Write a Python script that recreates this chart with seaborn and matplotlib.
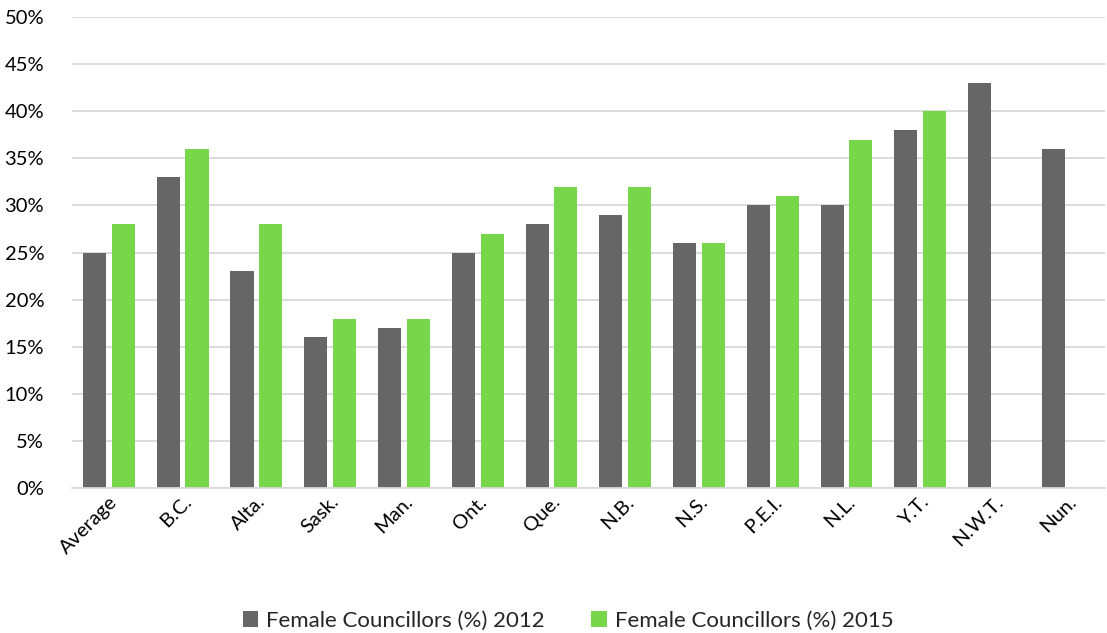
import matplotlib
matplotlib.use("Agg")
import matplotlib.pyplot as plt
import seaborn as sns
import pandas as pd
import numpy as np
from matplotlib.ticker import FuncFormatter

categories = ["Average", "B.C.", "Alta.", "Sask.", "Man.", "Ont.", "Que.", "N.B.",
              "N.S.", "P.E.I.", "N.L.", "Y.T.", "N.W.T.", "Nun."]
values_2012 = [25, 33, 23, 16, 17, 25, 28, 29, 26, 30, 30, 38, 43, 36]
values_2015 = [28, 36, 28, 18, 18, 27, 32, 32, 26, 31, 37, 40, np.nan, np.nan]
series_names = ["Female Councillors (%) 2012", "Female Councillors (%) 2015"]
colors = ["#666666", "#78D64B"]

df = pd.DataFrame({
    "Province": categories * 2,
    "Value": values_2012 + values_2015,
    "Series": [series_names[0]] * len(categories) + [series_names[1]] * len(categories),
})

sns.set_theme(style="white")
plt.rcParams['font.family'] = ['Lato', 'DejaVu Sans']

fig = plt.figure(figsize=(11.07, 6.33), dpi=100)
ax = fig.add_axes([0.065, 0.229, 0.933, 0.744])

sns.barplot(data=df, x="Province", y="Value", hue="Series", palette=colors,
            width=0.78, gap=0.2, ax=ax, saturation=1, edgecolor="none", legend=True)

ax.set_ylim(0, 50)
ax.set_yticks(np.arange(0, 51, 5))
ax.yaxis.set_major_formatter(FuncFormatter(lambda v, p: f"{int(v)}%"))
ax.set_xlim(-0.5, len(categories) - 0.5)
ax.grid(axis="y", color="#d9d9d9", linewidth=1.3)
ax.set_axisbelow(True)
for s in ["top", "right", "left"]:
    ax.spines[s].set_visible(False)
ax.spines["bottom"].set_color("#d9d9d9")
ax.spines["bottom"].set_linewidth(1.3)
ax.set_xlabel("")
ax.set_ylabel("")
ax.tick_params(axis="both", length=0, labelsize=14.5, colors="#000000")
ax.tick_params(axis="y", pad=20)
plt.setp(ax.get_xticklabels(), rotation=45, ha="right", rotation_mode="anchor")

handles, labels = ax.get_legend_handles_labels()
ax.legend(handles, labels, loc="lower center", bbox_to_anchor=(0.513, -0.028),
          bbox_transform=fig.transFigure, ncol=2, frameon=False, fontsize=16,
          handlelength=0.7, handleheight=0.7, handletextpad=0.35, columnspacing=2.1)

fig.savefig("out.png", dpi=100)
